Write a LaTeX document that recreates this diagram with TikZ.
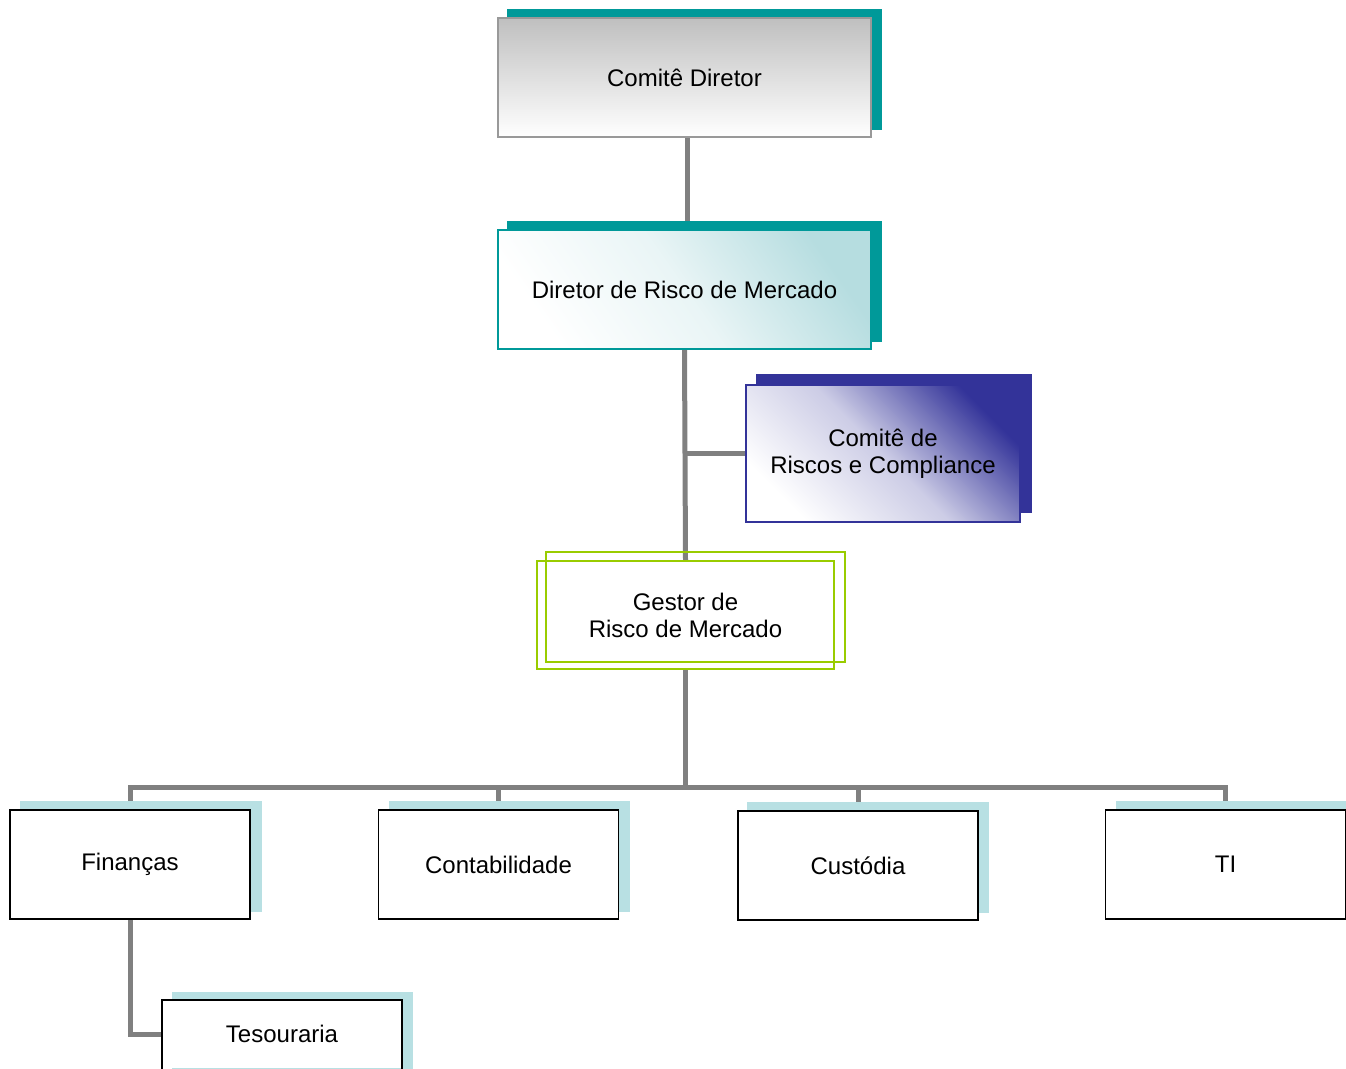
\documentclass[tikz,border=0pt]{standalone}
\usepackage{fontspec}
\setmainfont{Liberation Sans}
\pgfdeclarelayer{connlayer}
\pgfdeclarelayer{shadlayer}
\pgfsetlayers{connlayer,shadlayer,main}
\definecolor{tealc}{HTML}{009999}
\definecolor{navyc}{HTML}{333399}
\definecolor{greenc}{HTML}{99CC00}
\definecolor{shadc}{HTML}{B8E0E3}
\definecolor{connc}{HTML}{808080}
\definecolor{grayb}{HTML}{999999}
\definecolor{lteal}{HTML}{B6DDE0}
\begin{document}
\begin{tikzpicture}[x=0.75pt,y=-0.75pt,
  every node/.style={font=\fontsize{18}{20.3}\selectfont, align=center, inner sep=0pt},
  conn/.style={draw=connc, line width=3.75pt},
  topbox/.style={minimum width=279.75pt, minimum height=89.25pt, line width=1.3pt},
  unitbox/.style={draw=black, line width=1.2pt, fill=white, minimum width=180pt, minimum height=81.75pt},
  shad/.style={fill=shadc}
]
\useasboundingbox (0,0) rectangle (1346,1068);

% nodes
\node[topbox, draw=grayb, top color=black!25, bottom color=white] (cd) at (684.5,77.5) {Comitê Diretor};
\node[topbox, draw=tealc, top color=lteal, bottom color=white, middle color=lteal!30!white, shading angle=-55] (dr) at (684.5,289.5) {Diretor de Risco de Mercado};
\node[draw=navyc, line width=1.3pt, minimum width=205.5pt, minimum height=102.75pt,
      top color=navyc, bottom color=white, middle color=navyc!25!white, shading angle=-45] (rc) at (883,453.5) {Comitê de\\Riscos e Compliance};
\node[draw=greenc, line width=1.5pt, minimum width=222.75pt, minimum height=81pt] (gs) at (685.5,615) {Gestor de\\Risco de Mercado};
\draw[greenc, line width=1.5pt] ([xshift=7.5pt,yshift=6pt]gs.south west) rectangle ([xshift=7.5pt,yshift=6pt]gs.north east);

\node[unitbox] (fin) at (130,864.5) {Finanças};
\node[unitbox] (con) at (498.5,864.5) {Contabilidade};
\node[unitbox] (cus) at (858,865.5) {Custódia};
\node[unitbox] (ti) at (1225.5,864.5) {TI};
\node[fill=white, minimum width=180pt, minimum height=51pt] (tes) at (282,1034) {Tesouraria};
\draw[black, line width=1.2pt] ([yshift=-20pt]tes.south west) -- (tes.north west) -- (tes.north east) -- ([yshift=-20pt]tes.south east);

% shadows
\begin{pgfonlayer}{shadlayer}
\fill[tealc] ([xshift=7.5pt,yshift=6pt]cd.south west) rectangle ([xshift=7.5pt,yshift=6pt]cd.north east);
\fill[tealc] ([xshift=7.5pt,yshift=6pt]dr.south west) rectangle ([xshift=7.5pt,yshift=6pt]dr.north east);
\fill[navyc] ([xshift=8.25pt,yshift=7.5pt]rc.south west) rectangle ([xshift=8.25pt,yshift=7.5pt]rc.north east);
\fill[shad] ([xshift=8.25pt,yshift=6pt]fin.south west) rectangle ([xshift=8.25pt,yshift=6pt]fin.north east);
\fill[shad] ([xshift=8.25pt,yshift=6pt]con.south west) rectangle ([xshift=8.25pt,yshift=6pt]con.north east);
\fill[shad] ([xshift=7.5pt,yshift=6pt]cus.south west) rectangle ([xshift=7.5pt,yshift=6pt]cus.north east);
\fill[shad] ([xshift=8.25pt,yshift=6pt]ti.south west) rectangle ([xshift=8.25pt,yshift=6pt]ti.north east);
\fill[shad] ([xshift=7.5pt,yshift=6pt]tes.north west) rectangle ([xshift=8.25pt,yshift=-30pt]tes.south east);
\end{pgfonlayer}

% connectors
\coordinate (bus) at (0,787);
\begin{pgfonlayer}{connlayer}
\draw[conn] ([xshift=2.5pt]cd.south) -- ([xshift=2.5pt]dr.north);
\draw[conn] (dr.south) -- (gs.north);
\draw[conn] (rc.west) -- (rc.west -| dr.south);
\draw[conn] (gs.south) -- (gs.south |- bus);
\draw[conn] (fin.north) -- (fin.north |- bus) -| (ti.north);
\draw[conn] (con.north) -- (con.north |- bus);
\draw[conn] (cus.north) -- (cus.north |- bus);
\draw[conn] (fin.south) |- (tes.west);
\end{pgfonlayer}
\end{tikzpicture}
\end{document}
